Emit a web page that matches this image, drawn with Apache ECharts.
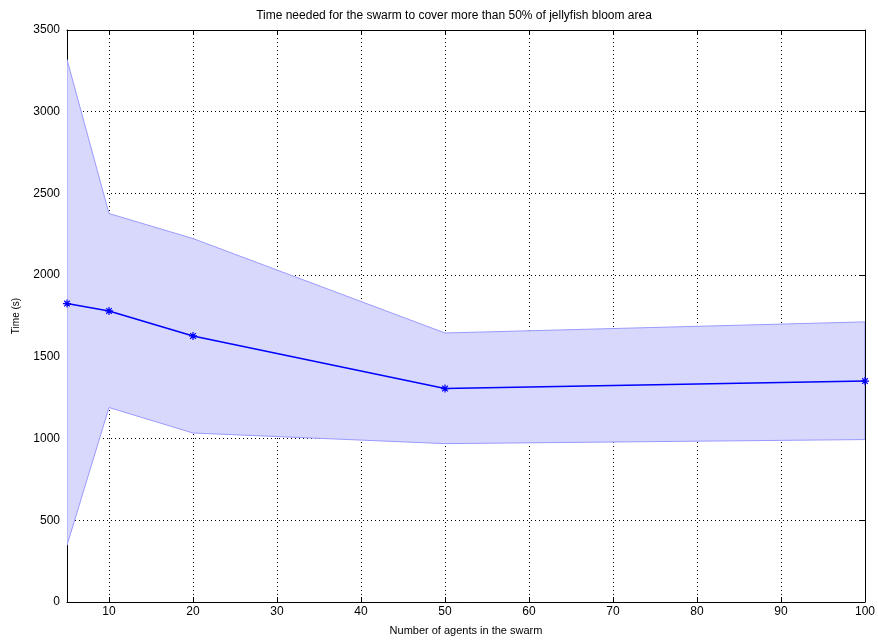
<!DOCTYPE html>
<html>
<head>
<meta charset="utf-8">
<script src="https://cdn.jsdelivr.net/npm/echarts@6/dist/echarts.min.js"></script>
<style>html,body{margin:0;padding:0;background:#fff}#c{width:878px;height:641px}</style>
</head>
<body>
<div id="c"></div>
<script>
const agents = [5, 10, 20, 50, 100];
const meanTime = [1826, 1781, 1628, 1306, 1352];
const upperTime = [3319, 2377, 2224, 1646, 1714];
const lowerTime = [347, 1190, 1034, 969, 994];
const xTicks = [10, 20, 30, 40, 50, 60, 70, 80, 90, 100];

const font = 'Liberation Sans, Arial, sans-serif';
const chart = echarts.init(document.getElementById('c'));
const bandData = agents.map((x, i) => [x, lowerTime[i], upperTime[i]]);
const meanData = agents.map((x, i) => [x, meanTime[i]]);
const asterisk = 'path://M0,5L10,5M5,0L5,10M1.5,1.5L8.5,8.5M8.5,1.5L1.5,8.5';

const gridLine = { show: true, lineStyle: { color: '#000', type: [1, 3], width: 1 } };
const axisLine = { show: true, onZero: false, lineStyle: { color: '#000', width: 1 } };

chart.setOption({
  animation: false,
  title: {
    text: 'Time needed for the swarm to cover more than 50% of jellyfish bloom area',
    left: 449, top: 5, textAlign: 'center',
    textStyle: { fontFamily: font, fontSize: 12, fontWeight: 'normal', color: '#000' }
  },
  grid: { left: 67, right: 12, top: 30, bottom: 39 },
  xAxis: [{
    type: 'value', min: 5, max: 100,
    name: 'Number of agents in the swarm', nameLocation: 'middle', nameGap: 23,
    nameTextStyle: { fontFamily: font, fontSize: 11, color: '#000' },
    axisLine: axisLine,
    axisTick: { show: true, inside: true, length: 5, customValues: xTicks, lineStyle: { color: '#000' } },
    axisLabel: { fontFamily: font, fontSize: 12, color: '#000', margin: 4, customValues: xTicks },
    splitLine: gridLine
  }, {
    type: 'value', min: 5, max: 100, position: 'top',
    axisLine: axisLine,
    axisTick: { show: true, inside: true, length: 5, customValues: xTicks, lineStyle: { color: '#000' } },
    axisLabel: { show: false, customValues: xTicks },
    splitLine: { show: false }
  }],
  yAxis: [{
    type: 'value', min: 0, max: 3500, interval: 500,
    name: 'Time (s)', nameLocation: 'middle', nameGap: 46,
    nameTextStyle: { fontFamily: font, fontSize: 10, color: '#000' },
    axisLine: axisLine,
    axisTick: { show: true, inside: true, length: 5, lineStyle: { color: '#000' } },
    axisLabel: { fontFamily: font, fontSize: 12, color: '#000', margin: 7, formatter: v => String(v) },
    splitLine: gridLine
  }, {
    type: 'value', min: 0, max: 3500, interval: 500, position: 'right',
    axisLine: axisLine,
    axisTick: { show: true, inside: true, length: 5, lineStyle: { color: '#000' } },
    axisLabel: { show: false },
    splitLine: { show: false }
  }],
  series: [{
    type: 'custom', data: bandData, z: 2, clip: true,
    encode: { x: 0, y: [1, 2] },
    renderItem: function (params, api) {
      if (params.dataIndex !== 0) return null;
      const pts = [];
      for (let i = 0; i < bandData.length; i++) pts.push(api.coord([bandData[i][0], bandData[i][2]]));
      for (let i = bandData.length - 1; i >= 0; i--) pts.push(api.coord([bandData[i][0], bandData[i][1]]));
      return {
        type: 'polygon',
        shape: { points: pts },
        style: { fill: '#d8d8fc', stroke: '#9a9aff', lineWidth: 1 }
      };
    }
  }, {
    type: 'line', data: meanData, symbol: asterisk, symbolSize: 8,
    lineStyle: { color: '#0000ff', width: 1.5 },
    itemStyle: { color: '#0000ff', borderColor: '#0000ff', borderWidth: 1.2 }, z: 5
  }]
});
</script>
</body>
</html>
